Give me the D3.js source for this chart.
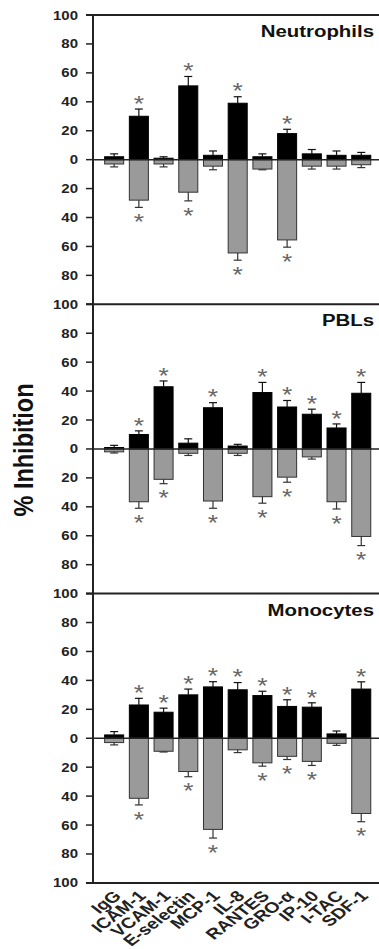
<!DOCTYPE html>
<html>
<head>
<meta charset="utf-8">
<script src="https://cdn.jsdelivr.net/npm/d3@7"></script>
<style>
  body { margin: 0; background: #fff; }
  svg { display: block; font-family: "Liberation Sans", Arial, sans-serif; }
</style>
</head>
<body>
<script>
// categories along the bottom
const categories = ['IgG', 'ICAM-1', 'VCAM-1', 'E-selectin', 'MCP-1', 'IL-8',
  'RANTES', 'GRO-\u03b1', 'IP-10', 'I-TAC', 'SDF-1'];

// upper (black) bars, % inhibition, and their error
const neutroUp    = [2, 30, 1, 51, 3, 39, 2, 18, 4, 3, 3];
const neutroUpErr = [2, 5, 1, 6.5, 3, 4.5, 2, 3, 3, 3, 2];
// lower (grey) bars, drawn downwards
const neutroDown    = [3, 28, 3, 22.5, 4.5, 64.5, 6.5, 55.5, 4.5, 4.5, 3.5];
const neutroDownErr = [2, 5, 2, 6, 2.5, 5, 0.5, 5, 2, 2, 2];
const neutroUpSig   = [0, 1, 0, 1, 0, 1, 0, 1, 0, 0, 0];
const neutroDownSig = [0, 1, 0, 1, 0, 1, 0, 1, 0, 0, 0];

const pblUp    = [1, 10, 43, 4, 28.5, 2, 39, 29, 24, 14.5, 38.5];
const pblUpErr = [1.5, 2.5, 4, 3, 3.5, 1.2, 7, 4.5, 3.5, 2.8, 7.5];
const pblDown    = [2, 36.5, 21, 3, 36, 3, 33, 19.5, 5.5, 36.5, 60.5];
const pblDownErr = [0.8, 4.5, 3, 1.5, 5, 1.5, 4.5, 3.5, 1.5, 5, 6.3];
const pblUpSig   = [0, 1, 1, 0, 1, 0, 1, 1, 1, 1, 1];
const pblDownSig = [0, 1, 1, 0, 1, 0, 1, 1, 0, 1, 1];

const monoUp    = [2.3, 23, 18, 30, 35.5, 33.5, 29.5, 22, 21.5, 3, 34];
const monoUpErr = [2.3, 4.6, 2.8, 4, 3.6, 5, 3, 4.6, 3, 2, 5];
const monoDown    = [3, 41.5, 9, 23, 63, 8, 17, 12.5, 16, 3.5, 52];
const monoDownErr = [1.6, 4.6, 0.5, 3.6, 6, 1.9, 2.3, 2.2, 2.8, 1.4, 5.7];
const monoUpSig   = [0, 1, 1, 1, 1, 1, 1, 1, 1, 0, 1];
const monoDownSig = [0, 1, 0, 1, 1, 0, 1, 1, 1, 0, 1];

const panelNames = ['Neutrophils', 'PBLs', 'Monocytes'];
const yTicks = [-100, -80, -60, -40, -20, 0, 20, 40, 60, 80, 100];

const panels = [
  {name: panelNames[0], up: neutroUp, upErr: neutroUpErr, down: neutroDown, downErr: neutroDownErr, upSig: neutroUpSig, downSig: neutroDownSig},
  {name: panelNames[1], up: pblUp, upErr: pblUpErr, down: pblDown, downErr: pblDownErr, upSig: pblUpSig, downSig: pblDownSig},
  {name: panelNames[2], up: monoUp, upErr: monoUpErr, down: monoDown, downErr: monoDownErr, upSig: monoUpSig, downSig: monoDownSig}
];

const width = 379, height = 949;
const axisX = 93, rightX = 379;
const top0 = 15, panelH = 289.3;
const SX = 1.2; // original figure is a bit stretched sideways, text too
const starSize = 22;

const svg = d3.select('body').append('svg')
  .attr('width', width).attr('height', height);

const x = d3.scaleBand().domain(categories)
  .range([101.8, 373.6]).paddingInner(0.23).paddingOuter(0.115);
const cx = d => x(d) + x.bandwidth() / 2;

panels.forEach((p, i) => {
  const y0 = top0 + i * panelH;
  const y = d3.scaleLinear().domain([-100, 100]).range([y0 + panelH, y0]);
  const g = svg.append('g');
  const rows = categories.map((c, j) => ({
    c, up: p.up[j], upErr: p.upErr[j], down: p.down[j], downErr: p.downErr[j],
    upSig: p.upSig[j], downSig: p.downSig[j]
  }));

  // tick marks + labels
  g.selectAll('line.tick').data(yTicks).join('line')
    .attr('x1', axisX - 7).attr('x2', axisX)
    .attr('y1', d => y(d)).attr('y2', d => y(d))
    .attr('stroke', '#222').attr('stroke-width', 1.5);
  g.selectAll('text.tick').data(yTicks.filter(t => i === 0 || t !== 100)).join('text')
    .attr('transform', d => `translate(78,${y(d)}) scale(${SX},1)`)
    .attr('dy', '0.36em').attr('text-anchor', 'end')
    .attr('font-size', 12.5).attr('font-weight', 'bold').attr('fill', '#222')
    .text(d => Math.abs(d));

  // top border of the panel
  g.append('line')
    .attr('x1', axisX - 7).attr('x2', rightX)
    .attr('y1', y(100)).attr('y2', y(100))
    .attr('stroke', '#222').attr('stroke-width', 2);

  // black bars going up
  g.selectAll('rect.up').data(rows).join('rect')
    .attr('x', d => x(d.c)).attr('width', x.bandwidth())
    .attr('y', d => y(d.up)).attr('height', d => y(0) - y(d.up))
    .attr('fill', '#000').attr('stroke', '#000').attr('stroke-width', 1);
  // grey bars going down
  g.selectAll('rect.down').data(rows).join('rect')
    .attr('x', d => x(d.c)).attr('width', x.bandwidth())
    .attr('y', y(0)).attr('height', d => y(-d.down) - y(0))
    .attr('fill', '#9a9a9a').attr('stroke', '#333').attr('stroke-width', 1);

  // error bars
  const err = g.append('g').attr('stroke-width', 1.2);
  err.selectAll('line.eu').data(rows).join('line')
    .attr('x1', d => cx(d.c)).attr('x2', d => cx(d.c))
    .attr('y1', d => y(d.up)).attr('y2', d => y(d.up + d.upErr)).attr('stroke', '#111');
  err.selectAll('line.euc').data(rows).join('line')
    .attr('x1', d => cx(d.c) - 4).attr('x2', d => cx(d.c) + 4)
    .attr('y1', d => y(d.up + d.upErr)).attr('y2', d => y(d.up + d.upErr)).attr('stroke', '#111');
  err.selectAll('line.ed').data(rows).join('line')
    .attr('x1', d => cx(d.c)).attr('x2', d => cx(d.c))
    .attr('y1', d => y(-d.down)).attr('y2', d => y(-d.down - d.downErr)).attr('stroke', '#333');
  err.selectAll('line.edc').data(rows).join('line')
    .attr('x1', d => cx(d.c) - 4).attr('x2', d => cx(d.c) + 4)
    .attr('y1', d => y(-d.down - d.downErr)).attr('y2', d => y(-d.down - d.downErr)).attr('stroke', '#333');

  // zero line
  g.append('line')
    .attr('x1', axisX).attr('x2', rightX)
    .attr('y1', y(0)).attr('y2', y(0))
    .attr('stroke', '#222').attr('stroke-width', 1.5);

  // significance stars
  const star = (sel, cyFn) => sel
    .attr('transform', d => `translate(${cx(d.c)},${cyFn(d) + starSize * 0.58}) scale(${SX},1)`)
    .attr('text-anchor', 'middle').attr('font-size', starSize).attr('fill', '#666')
    .text('*');
  g.selectAll('text.su').data(rows.filter(d => d.upSig)).join('text')
    .call(star, d => y(d.up + d.upErr) - 11);
  g.selectAll('text.sd').data(rows.filter(d => d.downSig)).join('text')
    .call(star, d => y(-d.down - d.downErr) + 9);

  // panel title
  g.append('text')
    .attr('transform', `translate(374,${y0 + 22}) scale(${SX},1)`)
    .attr('text-anchor', 'end').attr('font-size', 17).attr('font-weight', 'bold').attr('fill', '#111')
    .text(p.name);

  if (i === panels.length - 1) {
    g.append('line')
      .attr('x1', axisX - 7).attr('x2', rightX)
      .attr('y1', y(-100)).attr('y2', y(-100))
      .attr('stroke', '#222').attr('stroke-width', 2);
  }
});

// y axis line
svg.append('line')
  .attr('x1', axisX).attr('x2', axisX)
  .attr('y1', top0).attr('y2', top0 + 3 * panelH)
  .attr('stroke', '#222').attr('stroke-width', 2);

// category labels
const baseY = top0 + 3 * panelH;
svg.append('g').selectAll('text').data(categories).join('text')
  .attr('transform', d => `translate(${cx(d) + 8},${baseY + 14}) scale(1.3,1) rotate(-45)`)
  .attr('text-anchor', 'end').attr('font-size', 15).attr('font-weight', 'bold').attr('fill', '#222')
  .text(d => d);

// y title
svg.append('text')
  .attr('transform', `translate(33,450) scale(${SX},1) rotate(-90)`)
  .attr('text-anchor', 'middle').attr('font-size', 23.5).attr('font-weight', 'bold').attr('fill', '#111')
  .text('% Inhibition');
</script>
</body>
</html>
